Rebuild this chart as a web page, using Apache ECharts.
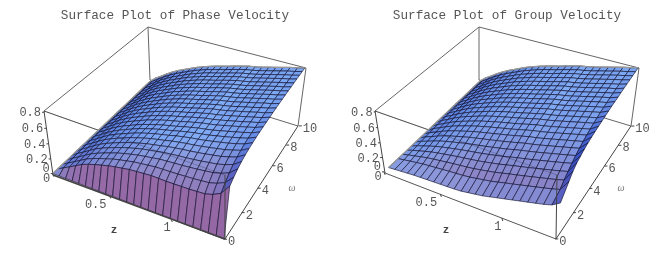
<!DOCTYPE html>
<html><head><meta charset="utf-8">
<style>html,body{margin:0;padding:0;background:#fff}#c{width:665px;height:257px}</style>
<script src="https://cdn.jsdelivr.net/npm/echarts@6/dist/echarts.min.js"></script>
</head><body><div id="c"></div>
<script>
const Z_MAX = 1.4, OMEGA_MAX = 10, V_MAX = 0.8;
const zGrid = [0,.058,.117,.175,.233,.292,.35,.408,.467,.525,.583,.642,.7,.758,.817,.875,.933,.992,1.05,1.108,1.167,1.225,1.283,1.342,1.4];
const omegaGrid = [0,.417,.833,1.25,1.667,2.083,2.5,2.917,3.333,3.75,4.167,4.583,5,5.417,5.833,6.25,6.667,7.083,7.5,7.917,8.333,8.75,9.167,9.583,10];
const groupOmegaGrid = [.4,1.25,1.667,2.083,2.5,2.917,3.333,3.75,4.167,4.583,5,5.417,5.833,6.25,6.667,7.083,7.5,7.917,8.333,8.75,9.167,9.583,10];
const zTicks = [0,.5,1];
const omegaTicks = [0,2,4,6,8,10];
const vTicks = [0,.2,.4,.6,.8];
const phaseVelocity = [
[0,0,0,0,0,0,0,0,0,0,0,0,0,0,0,0,0,0,0,0,0,0,0,0,0],
[0,.048,.096,.144,.195,.230,.260,.285,.310,.330,.345,.362,.370,.378,.386,.384,.382,.384,.386,.388,.394,.400,.428,.480,.600],
[0,.053,.103,.154,.206,.245,.278,.306,.336,.358,.377,.398,.409,.421,.433,.436,.439,.443,.449,.455,.464,.473,.500,.545,.644],
[0,.058,.109,.162,.214,.255,.290,.322,.354,.380,.402,.424,.439,.453,.469,.476,.484,.490,.499,.508,.521,.533,.559,.598,.680],
[0,.061,.113,.167,.221,.263,.299,.333,.366,.393,.418,.441,.458,.474,.493,.503,.515,.523,.534,.546,.562,.576,.602,.637,.706],
[0,.063,.116,.172,.224,.267,.304,.339,.373,.401,.426,.451,.469,.487,.508,.522,.536,.546,.560,.575,.592,.609,.635,.666,.726],
[0,.065,.118,.175,.226,.271,.308,.343,.379,.407,.434,.459,.478,.497,.519,.535,.551,.563,.578,.595,.614,.632,.658,.687,.740],
[0,.066,.120,.177,.229,.273,.310,.346,.382,.412,.439,.464,.484,.504,.528,.546,.564,.577,.593,.612,.632,.652,.677,.705,.752],
[0,.067,.122,.179,.229,.274,.311,.348,.384,.412,.440,.465,.486,.507,.531,.551,.571,.585,.602,.623,.644,.666,.690,.717,.760],
[0,.068,.123,.181,.230,.274,.311,.348,.384,.412,.440,.465,.486,.507,.532,.553,.574,.590,.608,.630,.653,.676,.700,.726,.766],
[0,.069,.124,.182,.232,.277,.314,.351,.388,.417,.446,.471,.493,.514,.540,.561,.583,.599,.617,.640,.663,.686,.710,.735,.772],
[0,.069,.124,.183,.233,.278,.316,.354,.391,.420,.449,.475,.497,.519,.545,.567,.589,.604,.624,.646,.669,.692,.717,.740,.776],
[0,.070,.125,.184,.234,.280,.318,.356,.394,.424,.453,.479,.502,.524,.550,.572,.595,.610,.630,.652,.676,.699,.723,.746,.780],
[0,.070,.125,.184,.235,.282,.320,.358,.396,.427,.457,.483,.506,.529,.555,.578,.601,.616,.636,.659,.682,.705,.730,.752,.784],
[0,.070,.126,.185,.236,.283,.322,.360,.399,.429,.460,.486,.509,.532,.559,.582,.605,.621,.640,.663,.687,.710,.735,.757,.787],
[0,.071,.126,.186,.237,.284,.323,.362,.401,.432,.463,.490,.513,.536,.563,.586,.609,.625,.645,.668,.692,.715,.740,.761,.790],
[0,.071,.127,.186,.238,.285,.324,.363,.402,.433,.464,.492,.515,.538,.566,.589,.612,.628,.648,.671,.695,.719,.743,.764,.792],
[0,.071,.127,.187,.238,.286,.325,.364,.404,.435,.466,.494,.517,.541,.568,.592,.615,.631,.651,.675,.698,.722,.746,.767,.794],
[0,.071,.127,.187,.239,.286,.326,.365,.404,.436,.467,.495,.518,.542,.570,.593,.617,.633,.652,.676,.700,.724,.748,.769,.795],
[0,.072,.127,.187,.239,.286,.326,.366,.405,.437,.468,.496,.520,.543,.571,.594,.618,.634,.654,.678,.702,.725,.749,.770,.796],
[0,.072,.128,.187,.239,.287,.327,.366,.406,.438,.469,.497,.521,.544,.572,.596,.620,.636,.655,.679,.703,.727,.751,.772,.797],
[0,.072,.128,.188,.239,.287,.327,.367,.407,.438,.470,.498,.522,.546,.573,.597,.621,.637,.657,.681,.705,.729,.753,.773,.798],
[0,.072,.128,.188,.240,.287,.327,.367,.407,.439,.471,.499,.522,.546,.574,.598,.622,.638,.658,.682,.706,.730,.754,.774,.799],
[0,.072,.128,.188,.240,.288,.328,.368,.408,.440,.471,.499,.523,.547,.575,.599,.623,.639,.659,.683,.707,.731,.755,.775,.799],
[0,.072,.128,.188,.240,.288,.328,.368,.408,.440,.472,.500,.524,.548,.576,.600,.624,.640,.660,.684,.708,.732,.756,.776,.800]
];
const groupVelocity = [
[0,.008,.016,.024,.032,.036,.040,.044,.048,.052,.056,.064,.080,.096,.112,.136,.160,.184,.208,.232,.256,.280,.304,.336,.400],
[0,.016,.031,.045,.059,.069,.077,.086,.095,.102,.110,.121,.138,.155,.172,.196,.220,.243,.267,.291,.315,.339,.363,.393,.528],
[0,.024,.044,.065,.084,.099,.112,.125,.138,.149,.160,.173,.191,.209,.228,.252,.276,.298,.321,.345,.369,.393,.417,.446,.592],
[0,.030,.055,.081,.105,.124,.141,.157,.174,.188,.202,.217,.235,.254,.274,.298,.322,.344,.366,.390,.414,.438,.462,.490,.632],
[0,.036,.065,.096,.124,.147,.167,.187,.206,.223,.239,.256,.275,.295,.316,.340,.364,.385,.407,.431,.455,.479,.503,.530,.656],
[0,.041,.074,.109,.140,.167,.190,.212,.235,.254,.272,.291,.311,.331,.353,.377,.401,.421,.443,.467,.491,.515,.539,.565,.680],
[0,.046,.082,.121,.155,.185,.210,.235,.260,.281,.301,.321,.342,.363,.386,.410,.434,.453,.475,.499,.523,.547,.571,.596,.696],
[0,.050,.089,.131,.167,.200,.227,.255,.282,.304,.326,.347,.369,.390,.414,.438,.462,.480,.502,.526,.550,.574,.598,.622,.708],
[0,.053,.094,.139,.178,.212,.242,.271,.300,.324,.347,.369,.391,.412,.437,.461,.485,.503,.524,.548,.572,.596,.620,.644,.720],
[0,.055,.099,.145,.186,.222,.253,.284,.314,.339,.364,.387,.409,.430,.455,.479,.503,.521,.542,.566,.590,.614,.638,.662,.728],
[0,.058,.103,.152,.194,.233,.265,.297,.329,.355,.380,.404,.426,.449,.474,.498,.522,.540,.561,.585,.609,.633,.657,.679,.736],
[0,.060,.107,.157,.200,.240,.273,.306,.340,.366,.393,.417,.440,.462,.488,.512,.536,.553,.574,.598,.622,.646,.670,.692,.744],
[0,.062,.110,.162,.207,.248,.282,.316,.350,.378,.405,.430,.453,.476,.502,.526,.550,.567,.588,.612,.636,.660,.684,.706,.752],
[0,.063,.113,.166,.212,.254,.289,.324,.359,.388,.416,.441,.464,.487,.513,.537,.561,.578,.599,.623,.647,.671,.695,.717,.760],
[0,.065,.115,.169,.216,.259,.295,.331,.367,.395,.424,.450,.473,.496,.523,.547,.571,.588,.608,.632,.656,.680,.704,.725,.764],
[0,.066,.117,.172,.220,.264,.301,.337,.374,.403,.432,.459,.482,.505,.532,.556,.580,.597,.617,.641,.665,.689,.713,.734,.768],
[0,.067,.119,.175,.223,.268,.305,.342,.379,.409,.439,.465,.488,.512,.539,.563,.587,.604,.624,.648,.672,.696,.720,.741,.776],
[0,.068,.121,.177,.226,.272,.309,.347,.385,.415,.445,.472,.495,.519,.546,.570,.594,.610,.631,.655,.679,.703,.727,.747,.780],
[0,.069,.122,.180,.230,.275,.314,.352,.390,.421,.451,.478,.502,.525,.553,.577,.601,.617,.637,.661,.685,.709,.733,.754,.784],
[0,.070,.124,.182,.233,.279,.318,.357,.395,.426,.457,.485,.508,.532,.560,.584,.608,.624,.644,.668,.692,.716,.740,.761,.788],
[0,.071,.126,.185,.236,.283,.322,.362,.401,.432,.464,.491,.515,.539,.567,.591,.615,.631,.651,.675,.699,.723,.747,.767,.792],
[0,.071,.127,.186,.238,.285,.325,.365,.404,.436,.468,.496,.520,.543,.571,.595,.619,.635,.655,.679,.703,.727,.751,.772,.796],
[0,.072,.128,.188,.240,.288,.328,.368,.408,.440,.472,.500,.524,.548,.576,.600,.624,.640,.660,.684,.708,.732,.756,.776,.800]
];

// Layout: where the corners of each plot box sit on the page.
const leftBox = {A:[53,175],B:[225,239],C:[298,126],D:[150,80],E:[44,111],H:[225,175],F:[306,68],G:[148,27],
  title:'Surface Plot of Phase Velocity',titleX:170,zLabel:[114,230],omegaLabel:[292,188],edge:'#444',edgeW:1.6};
const rightBox = {A:[385,173],B:[556,239],C:[631,126],D:[479,80],E:[375,111],H:[557,175],F:[639,68],G:[479,27],
  title:'Surface Plot of Group Velocity',titleX:502,zLabel:[446,230],omegaLabel:[621,188],edge:'#555',edgeW:1};
const zLabelShift = [-6,-14,-4];

function solve(M,b){const n=b.length;M=M.map((r,i)=>r.concat(b[i]));
  for(let c=0;c<n;c++){let p=c;for(let r=c+1;r<n;r++)if(Math.abs(M[r][c])>Math.abs(M[p][c]))p=r;
    [M[c],M[p]]=[M[p],M[c]];
    for(let r=0;r<n;r++){if(r===c)continue;const f=M[r][c]/M[c][c];for(let k=c;k<=n;k++)M[r][k]-=f*M[c][k];}}
  return M.map((r,i)=>r[n]/r[i]);}
function makeProjection(b){
  const pts=[[0,0,0,b.A],[1,0,0,b.B],[1,1,0,b.C],[0,1,0,b.D],[0,0,1,b.E],[1,0,1,b.H],[1,1,1,b.F],[0,1,1,b.G]];
  const R=[],Y=[];
  pts.forEach(([X,T,Z,[x,y]])=>{R.push([X,T,Z,1,0,0,0,0,-x*X,-x*T,-x*Z]);Y.push(x);R.push([0,0,0,0,X,T,Z,1,-y*X,-y*T,-y*Z]);Y.push(y);});
  const N=Array.from({length:11},(_,i)=>Array.from({length:11},(_,j)=>R.reduce((s,r)=>s+r[i]*r[j],0)));
  const V=Array.from({length:11},(_,i)=>R.reduce((s,r,k)=>s+r[i]*Y[k],0));
  const p=solve(N,V);
  return (z,w,v)=>{const X=z/Z_MAX,T=w/OMEGA_MAX,H=v/V_MAX,d=p[8]*X+p[9]*T+p[10]*H+1;
    return [(p[0]*X+p[1]*T+p[2]*H+p[3])/d,(p[4]*X+p[5]*T+p[6]*H+p[7])/d];};
}
const CUP=[135,180,250],CFRONT=[150,100,160],CLEFT=[5,30,175];
function shade(zs,ws,vs){
  const du=(zs[1]-zs[0])/Z_MAX,dt=(ws[1]-ws[0])/OMEGA_MAX,k=0.4/V_MAX;
  const su=k*((vs[0][1]+vs[1][1])-(vs[0][0]+vs[1][0]))/2/du;
  const st=k*((vs[1][0]+vs[1][1])-(vs[0][0]+vs[0][1]))/2/dt;
  const L=Math.hypot(su,st,1),nx=-su/L,ny=-st/L,nz=1/L;
  const tint=0.45*Math.max(0,1-ws[0]/2.5);
  const wL=nx<0?1.6*nx*nx:0,wF=(ny<0?2.8*ny*ny:0)+tint,wU=Math.max(0,nz),s=wL+wF+wU;
  const c=CUP.map((u,i)=>Math.round((wU*u+wF*CFRONT[i]+wL*CLEFT[i])/s));
  return `rgb(${c[0]},${c[1]},${c[2]})`;
}
const FONT='"Liberation Mono",monospace';
function plotSeries(box,omegas,rows){
  const proj=makeProjection(box);
  const line=(api,a,b,style)=>{const p=api.coord(a),q=api.coord(b);return {type:'line',shape:{x1:p[0],y1:p[1],x2:q[0],y2:q[1]},style:Object.assign({stroke:'#666',lineWidth:1},style)};};
  const back={type:'custom',coordinateSystem:'cartesian2d',data:[[0,0]],silent:true,z:1,
    renderItem:(p,api)=>({type:'group',children:[
      line(api,box.G,box.E),line(api,box.G,box.F),line(api,box.G,box.D),
      line(api,box.E,box.H),line(api,box.D,box.C),line(api,box.C,box.F),line(api,box.A,box.E,{stroke:'#444'})]})};
  const cells=[];
  for(let j=omegas.length-2;j>=0;j--)for(let i=0;i<zGrid.length-1;i++)cells.push([i,j]);
  const surface={type:'custom',coordinateSystem:'cartesian2d',data:cells,silent:true,z:2,
    renderItem:(p,api)=>{const i=api.value(0),j=api.value(1);
      const corners=[[i,j],[i+1,j],[i+1,j+1],[i,j+1]].map(([a,b])=>api.coord(proj(zGrid[a],omegas[b],rows[b][a])));
      return {type:'polygon',shape:{points:corners},style:{
        fill:shade([zGrid[i],zGrid[i+1]],[omegas[j],omegas[j+1]],[[rows[j][i],rows[j][i+1]],[rows[j+1][i],rows[j+1][i+1]]]),
        stroke:'rgba(15,15,45,.9)',lineWidth:.7}};}};
  const front={type:'custom',coordinateSystem:'cartesian2d',data:[[0,0]],silent:true,z:3,
    renderItem:(p,api)=>{
      const kids=[line(api,box.A,box.B,{stroke:box.edge,lineWidth:box.edgeW}),line(api,box.B,box.C,{stroke:'#444'}),line(api,box.B,box.H,{stroke:'#444'}),
        line(api,box.E,box.H,{stroke:'#223',lineWidth:.8,opacity:.35})];
      const rim=(pts,st)=>({type:'polyline',shape:{points:pts.map(q=>api.coord(q))},style:Object.assign({fill:null,stroke:'#999',lineWidth:1.3},st)});
      kids.push(rim(omegas.map((w,k)=>proj(0,w,rows[k][0]))));
      kids.push(rim(zGrid.map((z,k)=>proj(z,omegas[omegas.length-1],rows[omegas.length-1][k]))));
      const text=(s,at,font,fill,align)=>{const c=api.coord(at);return {type:'text',x:c[0],y:c[1],style:{text:s,font,fill,align:align||'center',verticalAlign:'middle'}};};
      const tf='12px '+FONT,tc='#555';
      zTicks.forEach((z,n)=>{const q=proj(z,0,0);kids.push(line(api,q,[q[0]+1,q[1]+3],{stroke:'#444'}));kids.push(text(String(z),[q[0]+zLabelShift[n],q[1]+(z?9:5)],tf,tc));});
      omegaTicks.forEach(w=>{const q=proj(Z_MAX,w,0);kids.push(line(api,q,[q[0]+3,q[1]],{stroke:'#444'}));kids.push(text(String(w),[q[0]+4,q[1]+3],tf,tc,'left'));});
      vTicks.forEach(v=>{const q=proj(0,0,v);kids.push(line(api,q,[q[0]-2,q[1]],{stroke:'#444'}));kids.push(text(String(v),[q[0]-3,q[1]+(v?1:-5)],tf,tc,'right'));});
      kids.push(text('z',box.zLabel,'bold 11px '+FONT,'#444'));
      kids.push(text('\u03c9',box.omegaLabel,'italic 10px "Liberation Serif",serif','#777'));
      return {type:'group',children:kids};}};
  return [back,surface,front];
}
const titleStyle={fontFamily:'Liberation Mono',fontSize:12.7,fontWeight:'normal',color:'#555'};
const chart=echarts.init(document.getElementById('c'),null,{renderer:'canvas'});
chart.setOption({
  animation:false,backgroundColor:'#fff',
  title:[leftBox,rightBox].map(b=>({text:b.title,left:b.titleX,top:4,textAlign:'center',textStyle:titleStyle})),
  grid:{left:0,right:0,top:0,bottom:0},
  xAxis:{type:'value',min:0,max:665,show:false},
  yAxis:{type:'value',min:0,max:257,inverse:true,show:false},
  series:[...plotSeries(leftBox,omegaGrid,phaseVelocity),...plotSeries(rightBox,groupOmegaGrid,groupVelocity)]
});
</script></body></html>
